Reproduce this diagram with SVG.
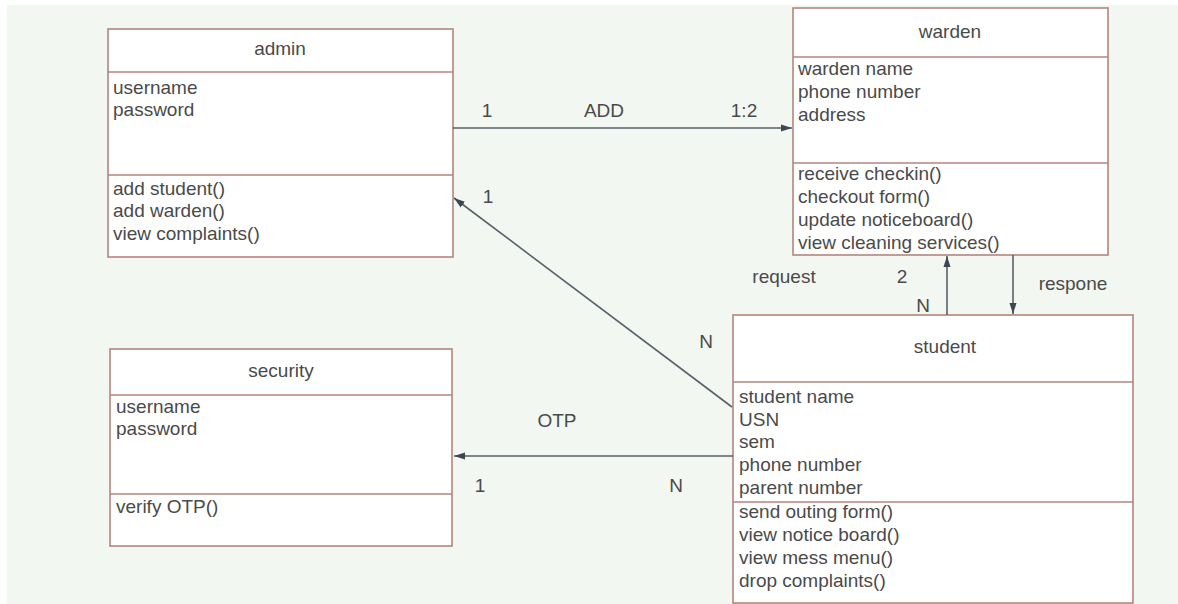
<svg xmlns="http://www.w3.org/2000/svg" width="1178" height="604" viewBox="0 0 1178 604">
<style>
.bg{fill:#f3f7f1}
.box{fill:#ffffff;stroke:#b3857b;stroke-width:1.6}
.sep{stroke:#b3857b;stroke-width:1.6}
text{font-family:"Liberation Sans",Arial,sans-serif;font-size:19px;fill:#4a4a4a}
.t{text-anchor:middle}
.c{stroke:#596068;stroke-width:1.6;fill:none}
</style>
<defs>
<marker id="ah" markerWidth="12" markerHeight="8" refX="11" refY="4" orient="auto" markerUnits="userSpaceOnUse">
<path d="M0,0.5 L11,4 L0,7.5 Z" fill="#3c4850"/>
</marker>
</defs>
<rect class="bg" x="7" y="5" width="1171" height="599"/>

<g id="admin">
<rect class="box" x="108" y="29" width="345" height="228"/>
<line class="sep" x1="108" y1="72" x2="453" y2="72"/>
<line class="sep" x1="108" y1="175" x2="453" y2="175"/>
<text class="t" x="280" y="55">admin</text>
<text x="113" y="94">username</text>
<text x="113" y="116">password</text>
<text x="113" y="195">add student()</text>
<text x="113" y="217">add warden()</text>
<text x="113" y="240">view complaints()</text>
</g>

<g id="warden">
<rect class="box" x="793" y="8" width="315" height="247"/>
<line class="sep" x1="793" y1="57" x2="1108" y2="57"/>
<line class="sep" x1="793" y1="163" x2="1108" y2="163"/>
<text class="t" x="950" y="38">warden</text>
<text x="798" y="75">warden name</text>
<text x="798" y="98">phone number</text>
<text x="798" y="121">address</text>
<text x="798" y="180">receive checkin()</text>
<text x="798" y="203">checkout form()</text>
<text x="798" y="226">update noticeboard()</text>
<text x="798" y="249">view cleaning services()</text>
</g>

<g id="security">
<rect class="box" x="110" y="349" width="342" height="197"/>
<line class="sep" x1="110" y1="395" x2="452" y2="395"/>
<line class="sep" x1="110" y1="494" x2="452" y2="494"/>
<text class="t" x="281" y="377">security</text>
<text x="116" y="413">username</text>
<text x="116" y="435">password</text>
<text x="116" y="513">verify OTP()</text>
</g>

<g id="student">
<rect class="box" x="733" y="315" width="400" height="288"/>
<line class="sep" x1="733" y1="382" x2="1133" y2="382"/>
<line class="sep" x1="733" y1="502" x2="1133" y2="502"/>
<text class="t" x="945" y="353">student</text>
<text x="739" y="403">student name</text>
<text x="739" y="426">USN</text>
<text x="739" y="448">sem</text>
<text x="739" y="471">phone number</text>
<text x="739" y="494">parent number</text>
<text x="739" y="518">send outing form()</text>
<text x="739" y="541">view notice board()</text>
<text x="739" y="564">view mess menu()</text>
<text x="739" y="587">drop complaints()</text>
</g>

<g id="connectors">
<line class="c" x1="453" y1="128" x2="792" y2="128" marker-end="url(#ah)"/>
<line class="c" x1="732" y1="407" x2="454" y2="198" marker-end="url(#ah)"/>
<line class="c" x1="733" y1="456" x2="454" y2="456" marker-end="url(#ah)"/>
<line class="c" x1="947" y1="315" x2="947" y2="256" marker-end="url(#ah)"/>
<line class="c" x1="1013" y1="255" x2="1013" y2="314" marker-end="url(#ah)"/>
<text class="t" x="487" y="117">1</text>
<text class="t" x="604" y="117">ADD</text>
<text class="t" x="744" y="117">1:2</text>
<text class="t" x="488" y="203">1</text>
<text class="t" x="706" y="348">N</text>
<text class="t" x="557" y="427">OTP</text>
<text class="t" x="480" y="492">1</text>
<text class="t" x="676" y="492">N</text>
<text class="t" x="784" y="283">request</text>
<text class="t" x="902" y="283">2</text>
<text class="t" x="923" y="312">N</text>
<text class="t" x="1073" y="290">respone</text>
</g>
</svg>
